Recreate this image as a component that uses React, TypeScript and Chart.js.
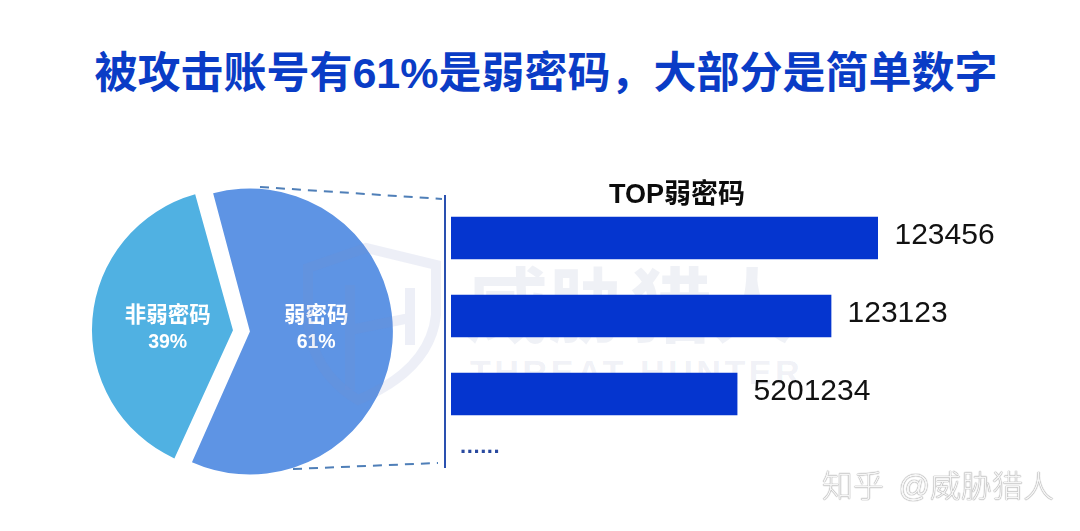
import React, { useEffect, useRef } from "react";
import { Chart, registerables } from "chart.js";

Chart.register(...registerables);

const pageTitle = "被攻击账号有61%是弱密码，大部分是简单数字";
const pieLabels = ["弱密码", "非弱密码"];
const pieValues = [61, 39];
const pieColors = ["#5e94e4", "#50b1e2"];
const barTitle = "TOP弱密码";
const barLabels = ["123456", "123123", "5201234"];
const barValues = [100, 89, 67];
const LATIN = '"Liberation Sans", Arial, "Noto Sans CJK SC", sans-serif';
const CJK = '"Liberation Sans", "Noto Sans CJK SC", sans-serif';

const pieLabelPlugin = {
  id: "pieLabelPlugin",
  afterDatasetsDraw(chart: any) {
    const ctx = chart.ctx;
    const arcs = chart.getDatasetMeta(0).data;
    const shift = [-8, 14];
    ctx.save();
    ctx.fillStyle = "#ffffff";
    ctx.textAlign = "center";
    ctx.textBaseline = "middle";
    arcs.forEach((arc: any, i: number) => {
      const p = arc.getCenterPoint();
      const cx = p.x + shift[i];
      const cy = (chart.chartArea.top + chart.chartArea.bottom) / 2;
      ctx.font = `bold 21.5px ${CJK}`;
      ctx.fillText(pieLabels[i], cx, cy - 15);
      ctx.font = `bold 19.5px ${LATIN}`;
      ctx.fillText(`${pieValues[i]}%`, cx, cy + 12);
    });
    ctx.restore();
  },
};

const barLabelPlugin = {
  id: "barLabelPlugin",
  afterDatasetsDraw(chart: any) {
    const ctx = chart.ctx;
    ctx.save();
    ctx.fillStyle = "#111111";
    ctx.textAlign = "left";
    ctx.textBaseline = "middle";
    ctx.font = `30px ${LATIN}`;
    chart.getDatasetMeta(0).data.forEach((bar: any, i: number) => {
      ctx.fillText(barLabels[i], bar.x + 16.5, bar.y - 2);
    });
    ctx.restore();
  },
};

const abs = (
  left: number,
  top: number,
  extra: React.CSSProperties = {}
): React.CSSProperties => ({
  position: "absolute",
  left,
  top,
  whiteSpace: "nowrap",
  ...extra,
});

export default function App() {
  const pieRef = useRef<HTMLCanvasElement>(null);
  const barRef = useRef<HTMLCanvasElement>(null);

  useEffect(() => {
    const pie = new Chart(pieRef.current!, {
      type: "pie",
      data: {
        labels: pieLabels,
        datasets: [
          {
            data: pieValues,
            backgroundColor: pieColors,
            borderWidth: 0,
            offset: [23.8, 44.2],
          },
        ],
      },
      options: {
        animation: false,
        responsive: false,
        rotation: -15.3,
        radius: 137,
        layout: { padding: 0 },
        plugins: { legend: { display: false }, tooltip: { enabled: false } },
      },
      plugins: [pieLabelPlugin],
    } as any);

    const bar = new Chart(barRef.current!, {
      type: "bar",
      data: {
        labels: barLabels,
        datasets: [
          {
            data: barValues,
            backgroundColor: "#0535cf",
            borderWidth: 0,
            barThickness: 42,
          },
        ],
      },
      options: {
        animation: false,
        responsive: false,
        indexAxis: "y",
        layout: { padding: { right: 173 } },
        scales: {
          x: { display: false, min: 0, max: 100 },
          y: { display: false },
        },
        plugins: { legend: { display: false }, tooltip: { enabled: false } },
      },
      plugins: [barLabelPlugin],
    } as any);

    return () => {
      pie.destroy();
      bar.destroy();
    };
  }, []);

  return (
    <div
      style={{
        position: "fixed",
        left: 0,
        top: 0,
        width: 1080,
        height: 531,
        background: "#ffffff",
        overflow: "hidden",
        fontFamily: CJK,
      }}
    >
      <div
        style={abs(0, 44, {
          width: 1092,
          textAlign: "center",
          fontSize: 43,
          lineHeight: "58px",
          fontWeight: 700,
          color: "#0a3cc6",
        })}
      >
        {pageTitle}
      </div>

      <div
        style={abs(466, 262, {
          fontSize: 82,
          lineHeight: "92px",
          fontWeight: 700,
          color: "rgba(110,125,170,0.11)",
        })}
      >
        威胁猎人
      </div>
      <div
        style={abs(470, 352, {
          fontSize: 34,
          lineHeight: "40px",
          letterSpacing: 3.6,
          fontWeight: 700,
          color: "rgba(110,125,170,0.11)",
        })}
      >
        THREAT HUNTER
      </div>

      <canvas ref={pieRef} width={488} height={340} style={abs(0, 161, { display: "block" })} />
      <canvas ref={barRef} width={600} height={234} style={abs(451, 199, { display: "block" })} />

      <svg width={1080} height={531} style={abs(0, 0)}>
        <line x1={260} y1={187} x2={442} y2={199} stroke="#4f7fb8" strokeWidth={2} strokeDasharray="9 7" />
        <line x1={293} y1={469} x2={438} y2={463} stroke="#4f7fb8" strokeWidth={2} strokeDasharray="9 7" />
        <line x1={445} y1={195} x2={445} y2={468} stroke="#2a50b0" strokeWidth={2} />
        <g fill="none" stroke="#7e8fc8" strokeOpacity={0.14} strokeWidth={10}>
          <path d="M308 268 L366 248 L436 265 L436 315 Q430 370 358 400 Q312 372 308 320 Z" />
          <path d="M350 285 L350 390 M410 288 L410 345 M350 330 L410 318" />
        </g>
      </svg>

      <div
        style={abs(609, 179, {
          fontSize: 27,
          lineHeight: "30px",
          fontWeight: 700,
          color: "#0c0c0c",
        })}
      >
        {barTitle}
      </div>
      <div
        style={abs(460, 434, {
          fontSize: 22,
          lineHeight: "24px",
          fontWeight: 700,
          letterSpacing: 0.6,
          color: "#2a4aa0",
        })}
      >
        ......
      </div>
      <div
        style={abs(822, 469, {
          fontSize: 31,
          lineHeight: "36px",
          fontWeight: 300,
          color: "#f6f6f6",
          textShadow: "0 0 1px #8a8a8a, 0 0 1px #8a8a8a",
          wordSpacing: 6,
        })}
      >
        知乎 @威胁猎人
      </div>
    </div>
  );
}
